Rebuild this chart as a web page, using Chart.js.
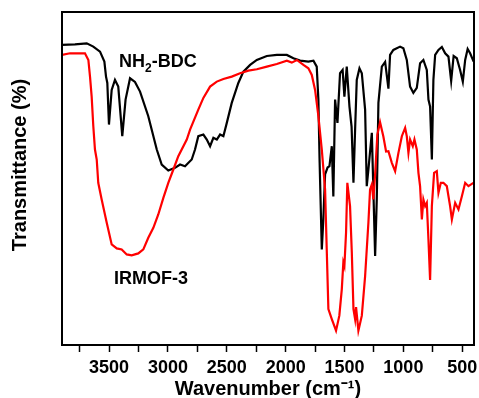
<!DOCTYPE html>
<html>
<head>
<meta charset="utf-8">
<script src="https://cdn.jsdelivr.net/npm/chart.js@4/dist/chart.umd.min.js"></script>
<style>
  html, body { margin: 0; padding: 0; background: #fff; }
  #wrap { width: 479px; height: 398px; }
</style>
</head>
<body>
<div id="wrap"><canvas id="c" width="479" height="398"></canvas></div>
<script>
// ---- data ----
const bdcWave = [3900,3790,3690,3634,3577,3540,3526,3515,3501,3478,3450,3422,3388,3360,3322,3280,3237,3167,3095,3053,2997,2940,2897,2855,2798,2770,2742,2699,2670,2642,2614,2585,2557,2529,2500,2458,2402,2359,2302,2245,2160,2075,1990,1934,1877,1807,1764,1736,1722,1712,1693,1680,1665,1644,1628,1608,1595,1580,1560,1538,1516,1501,1481,1458,1440,1424,1410,1396,1373,1353,1325,1311,1297,1268,1255,1240,1226,1212,1183,1155,1127,1113,1085,1028,1000,971,943,915,886,858,830,801,787,773,758,745,730,702,673,645,617,594,573,546,518,495,475,454,433,403];
const bdcT = [90.1,90.3,90.6,89.6,88.1,85.1,80.6,78.7,66.2,76.6,79.6,77.6,62.7,73.7,80.1,79.0,76.1,68.7,58.7,54.2,52.4,53.2,54.2,53.7,55.7,58.7,62.7,63.2,61.7,59.7,62.2,61.7,63.2,62.7,66.7,72.7,78.7,82.1,84.1,85.6,86.8,87.1,87.1,86.1,85.4,85.1,85.4,83.6,73.7,55.7,28.7,37.7,51.2,53.3,53.7,59.7,44.6,73.7,66.7,81.6,82.6,74.6,83.6,71.6,65.6,48.7,64.7,79.6,83.1,81.6,70.7,47.7,52.7,63.7,46.7,26.7,43.7,72.7,83.6,85.0,77.0,87.1,88.6,89.6,89.1,85.6,77.6,75.7,77.2,84.6,85.6,82.6,73.7,71.6,55.7,79.6,87.1,88.6,89.5,87.6,86.6,79.3,86.8,86.1,82.6,79.1,85.6,88.9,87.6,85.1];

const irmofWave = [3900,3832,3747,3705,3676,3662,3648,3634,3620,3605,3592,3563,3520,3478,3435,3393,3350,3308,3252,3209,3167,3124,3082,3039,2997,2954,2912,2840,2812,2742,2699,2642,2585,2529,2458,2387,2317,2245,2160,2075,1990,1948,1905,1849,1807,1778,1750,1722,1693,1665,1651,1637,1608,1572,1544,1523,1510,1501,1487,1476,1453,1438,1424,1410,1402,1382,1353,1325,1297,1283,1268,1255,1240,1221,1198,1170,1147,1127,1098,1070,1042,1013,985,971,957,943,920,906,886,872,858,843,830,815,801,787,773,758,739,716,702,682,660,631,603,588,560,532,503,475,447,405];
const irmofT = [87.1,87.6,87.6,87.6,85.6,80.6,74.6,65.7,58.7,55.7,48.7,43.7,36.7,30.2,29.0,28.7,27.2,26.9,27.5,28.7,32.2,35.2,39.2,44.2,48.7,52.7,56.7,61.7,64.7,70.7,74.2,77.6,79.1,79.9,80.6,81.6,82.4,82.8,83.6,84.4,85.4,84.8,85.6,84.1,83.1,81.1,76.6,68.7,58.7,46.7,28.7,10.8,7.8,4.3,8.8,16.8,24.8,23.7,33.7,48.7,41.7,27.8,10.8,7.8,11.4,4.3,8.8,20.7,36.8,46.7,48.2,43.7,51.2,63.2,66.9,62.6,58.1,58.2,54.7,52.2,57.7,62.7,65.2,62.7,57.7,61.7,59.7,61.7,58.7,51.7,47.7,37.7,43.7,41.7,42.7,31.7,19.5,41.7,51.7,52.2,45.7,48.7,48.7,47.7,41.7,37.7,42.7,40.7,44.7,48.7,47.7,48.7];

const seriesNames = ["NH\u2082-BDC", "IRMOF-3"];
const majorTicks = [3500, 3000, 2500, 2000, 1500, 1000, 500];
const minorTicks = [3750, 3250, 2750, 2250, 1750, 1250, 750];
const xTitle = "Wavenumber (cm\u207B\u00B9)";
const yTitle = "Transmittance (%)";

const toPoints = (xs, ys) => xs.map((x, i) => ({ x: x, y: ys[i] }));

const FONT = "'Liberation Sans', Arial, sans-serif";

const framePlugin = {
  id: 'frameAndText',
  afterDraw(chart) {
    const { ctx, chartArea: a, scales } = chart;
    ctx.save();
    // frame
    ctx.strokeStyle = '#000';
    ctx.lineWidth = 2;
    ctx.strokeRect(a.left, a.top, a.right - a.left, a.bottom - a.top);
    // y title
    ctx.fillStyle = '#000';
    ctx.font = 'bold 20px ' + FONT;
    ctx.textAlign = 'center';
    ctx.textBaseline = 'middle';
    ctx.translate(20, 165);
    ctx.rotate(-Math.PI / 2);
    ctx.fillText(yTitle, 0, 0);
    ctx.restore();

    // series labels
    ctx.save();
    ctx.fillStyle = '#000';
    ctx.textBaseline = 'alphabetic';
    ctx.textAlign = 'left';
    const xs = scales.x, ys = scales.y;
    // NH2-BDC
    let px = xs.getPixelForValue(3415), py = ys.getPixelForValue(83.5);
    ctx.font = 'bold 18px ' + FONT;
    ctx.fillText('NH', px, py);
    px += ctx.measureText('NH').width;
    ctx.font = 'bold 12px ' + FONT;
    ctx.fillText('2', px, py + 5);
    px += ctx.measureText('2').width;
    ctx.font = 'bold 18px ' + FONT;
    ctx.fillText('-BDC', px, py);
    // IRMOF-3
    px = xs.getPixelForValue(3458); py = ys.getPixelForValue(18.3);
    ctx.fillText(seriesNames[1], px, py);
    ctx.restore();
  }
};

new Chart(document.getElementById('c'), {
  type: 'line',
  data: {
    datasets: [
      {
        label: seriesNames[1],
        data: toPoints(irmofWave, irmofT),
        borderColor: '#ff0000',
        borderWidth: 2.2,
        pointRadius: 0,
        tension: 0,
        fill: false
      },
      {
        label: seriesNames[0],
        data: toPoints(bdcWave, bdcT),
        borderColor: '#000000',
        borderWidth: 2.2,
        pointRadius: 0,
        tension: 0,
        fill: false
      }
    ]
  },
  options: {
    responsive: false,
    devicePixelRatio: 1,
    animation: false,
    layout: { padding: { top: 12, right: 5, left: 0, bottom: 0 } },
    plugins: { legend: { display: false }, tooltip: { enabled: false } },
    scales: {
      x: {
        type: 'linear',
        reverse: true,
        min: 400,
        max: 3900,
        afterBuildTicks(scale) {
          scale.ticks = majorTicks.concat(minorTicks).sort((a, b) => b - a).map(v => ({ value: v }));
        },
        afterFit(scale) {
          scale.height = 53;
          scale.paddingLeft = 0;
          scale.paddingRight = 0;
        },
        ticks: {
          autoSkip: false,
          maxRotation: 0,
          padding: 5,
          color: '#000',
          font: { family: FONT, size: 18, weight: 'bold' },
          callback: (v) => majorTicks.includes(v) ? String(v) : ''
        },
        grid: {
          display: true,
          drawOnChartArea: false,
          drawTicks: true,
          tickLength: 7,
          tickColor: '#000',
          tickWidth: 1.5
        },
        border: { display: false },
        title: {
          display: true,
          text: xTitle,
          color: '#000',
          font: { family: FONT, size: 20, weight: 'bold', lineHeight: 0.85 },
          padding: { top: 0, bottom: 0 }
        }
      },
      y: {
        min: 0,
        max: 100,
        afterFit(scale) { scale.width = 62; },
        ticks: { display: false },
        grid: { display: false },
        border: { display: false }
      }
    }
  },
  plugins: [framePlugin]
});
</script>
</body>
</html>
